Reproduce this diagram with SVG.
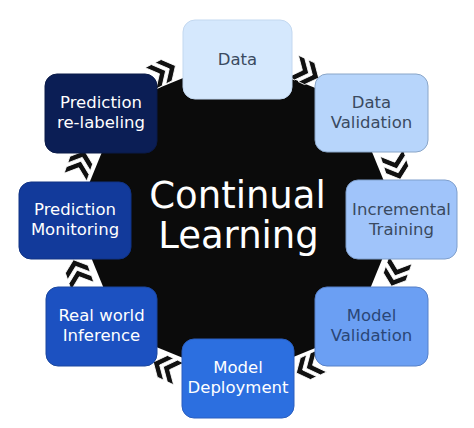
<svg xmlns="http://www.w3.org/2000/svg" width="474" height="428" viewBox="0 0 474 428">
<style>
.lbl{font-family:"DejaVu Sans","Liberation Sans",sans-serif;font-size:16.5px;text-anchor:middle}
.dk{fill:#3a4a60}
.lt{fill:#ffffff}
.title{font-family:"DejaVu Sans","Liberation Sans",sans-serif;font-size:37px;fill:#ffffff;text-anchor:middle}
.box{stroke-width:1}
</style>
<defs>
<g id="chev">
<polygon points="-14,-12 -7,-12 3,0 -7,12 -14,12 -4,0" fill="#111" stroke="#fff" stroke-width="0.8"/>
<polygon points="-3,-12 4,-12 14,0 4,12 -3,12 7,0" fill="#111" stroke="#fff" stroke-width="0.8"/>
</g>
</defs>
<rect width="474" height="428" fill="#ffffff"/>
<polygon id="hub" points="237,56 352,103 399,218 352,333 237,380 122,333 75,218 122,103" fill="#0b0b0b"/>
<g id="connectors">
<use href="#chev" transform="translate(163,72) rotate(-27)"/>
<use href="#chev" transform="translate(306,72) rotate(25)"/>
<use href="#chev" transform="translate(396,166) rotate(72)"/>
<use href="#chev" transform="translate(396,273) rotate(109)"/>
<use href="#chev" transform="translate(309,367) rotate(155)"/>
<use href="#chev" transform="translate(166,368) rotate(205)"/>
<use href="#chev" transform="translate(78,273) rotate(251)"/>
<use href="#chev" transform="translate(80,164) rotate(-71)"/>
</g>
<g id="center-title">
<text class="title" x="237.5" y="208">Continual</text>
<text class="title" x="238.5" y="248">Learning</text>
</g>
<g id="n-data">
<rect class="box" x="183" y="20" width="109" height="79" rx="12" fill="#d5e8fd" stroke="#c3d8f0"/>
<text class="lbl dk" x="237.5" y="65">Data</text>
</g>
<g id="n-data-validation">
<rect class="box" x="315" y="74" width="113" height="78" rx="12" fill="#b7d5fb" stroke="#8aa6c8"/>
<text class="lbl dk" x="371.5" y="108">Data</text>
<text class="lbl dk" x="371.5" y="128">Validation</text>
</g>
<g id="n-incremental-training">
<rect class="box" x="346" y="180" width="111" height="79" rx="12" fill="#a0c4fa" stroke="#7f9fcc"/>
<text class="lbl dk" x="401.5" y="215">Incremental</text>
<text class="lbl dk" x="401.5" y="235">Training</text>
</g>
<g id="n-model-validation">
<rect class="box" x="315" y="287" width="113" height="79" rx="12" fill="#6b9ff3" stroke="#5680c8"/>
<text class="lbl" fill="#2a4676" x="371.5" y="321">Model</text>
<text class="lbl" fill="#2a4676" x="371.5" y="341">Validation</text>
</g>
<g id="n-model-deployment">
<rect class="box" x="182" y="339" width="112" height="79" rx="12" fill="#2c6fe0" stroke="#2a5fc0"/>
<text class="lbl lt" x="238" y="373">Model</text>
<text class="lbl lt" x="238" y="393">Deployment</text>
</g>
<g id="n-real-world-inference">
<rect class="box" x="46" y="287" width="111" height="79" rx="12" fill="#1c51c1" stroke="#1a479f"/>
<text class="lbl lt" x="101.5" y="321">Real world</text>
<text class="lbl lt" x="101.5" y="341">Inference</text>
</g>
<g id="n-prediction-monitoring">
<rect class="box" x="19" y="182" width="112" height="77" rx="12" fill="#123a9b" stroke="#103384"/>
<text class="lbl lt" x="75" y="215">Prediction</text>
<text class="lbl lt" x="75" y="235">Monitoring</text>
</g>
<g id="n-prediction-relabeling">
<rect class="box" x="45" y="74" width="112" height="79" rx="12" fill="#0b1e55" stroke="#0a1a48"/>
<text class="lbl lt" x="101" y="108">Prediction</text>
<text class="lbl lt" x="101" y="128">re-labeling</text>
</g>
</svg>
